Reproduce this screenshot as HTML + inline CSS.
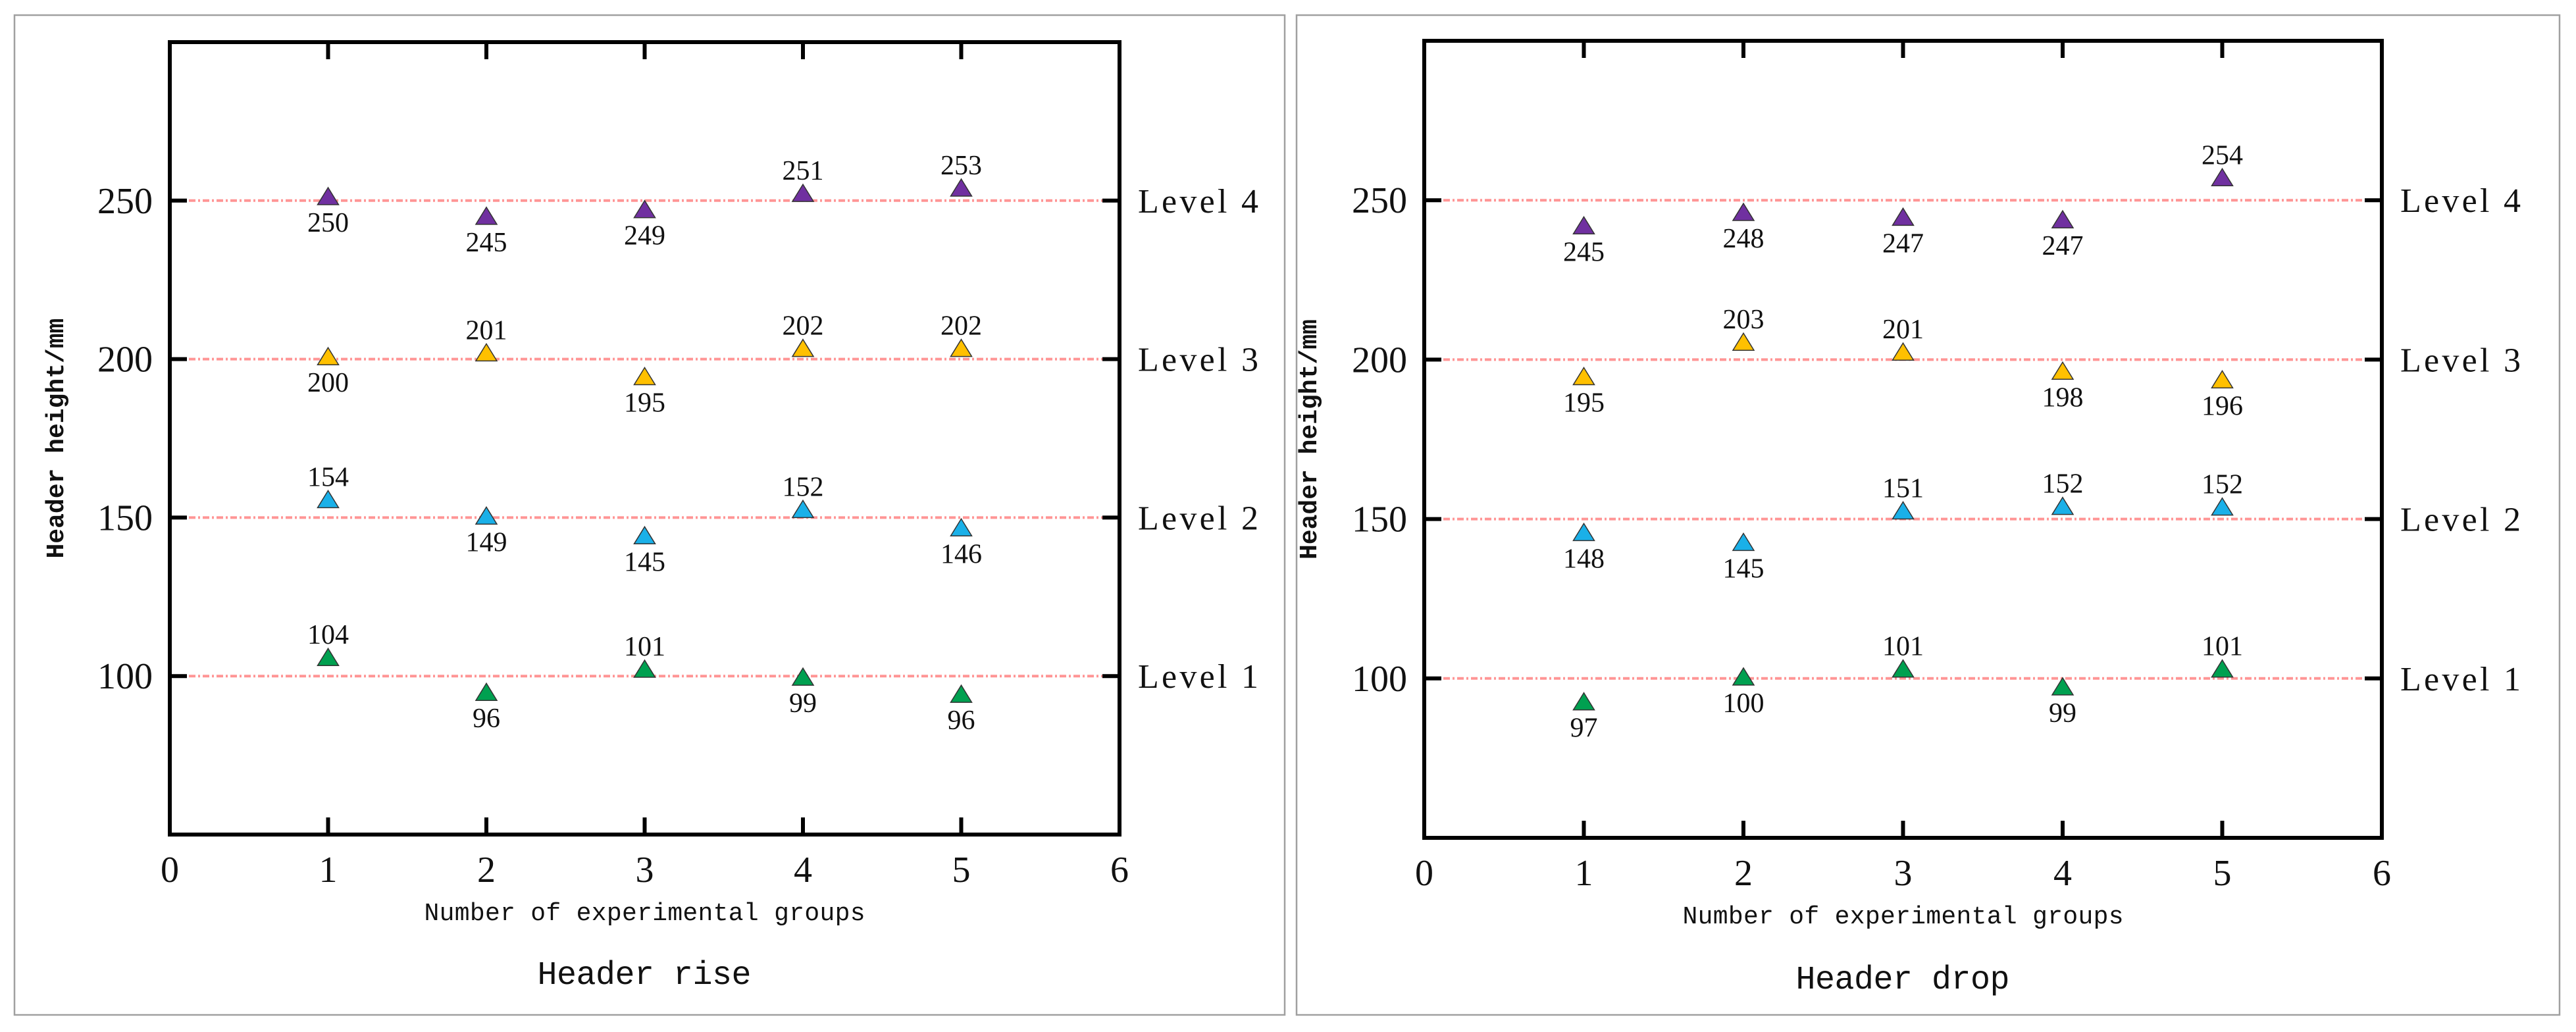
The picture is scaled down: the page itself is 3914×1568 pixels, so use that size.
<!DOCTYPE html>
<html><head><meta charset="utf-8"><style>
html,body{margin:0;padding:0;background:#fff;width:3914px;height:1568px;overflow:hidden}
svg{display:block}
</style></head><body>
<svg id="fig" width="3914" height="1568" viewBox="0 0 3914 1568" xmlns="http://www.w3.org/2000/svg">
<rect x="22" y="23" width="1930" height="1519" fill="#fff" stroke="#a0a0a0" stroke-width="2.5"/>
<rect x="1970" y="23" width="1919" height="1519" fill="#fff" stroke="#a0a0a0" stroke-width="2.5"/>
</svg>
<script>
const groups = [1, 2, 3, 4, 5];
const levels = [100, 150, 200, 250];
const levelNames = ["Level 1", "Level 2", "Level 3", "Level 4"];
const yTicks = [100, 150, 200, 250];
const xTicks = [0, 1, 2, 3, 4, 5, 6];
const seriesColors = ["#00a050", "#1ab0e8", "#ffc000", "#7030a0"];
// Header rise: printed values and plotted positions per level
const riseL1 = [104, 96, 101, 99, 96];
const riseL2 = [154, 149, 145, 152, 146];
const riseL3 = [200, 201, 195, 202, 202];
const riseL4 = [250, 245, 249, 251, 253];
const risePosL1 = [105.6, 94.6, 101.9, 99.4, 94.0];
const risePosL2 = [155.4, 150.2, 144.0, 152.3, 146.5];
const risePosL3 = [200.5, 201.7, 194.2, 203.1, 203.1];
const risePosL4 = [251.0, 244.8, 246.9, 252.0, 253.7];
// Header drop
const dropL1 = [97, 100, 101, 99, 101];
const dropL2 = [148, 145, 151, 152, 152];
const dropL3 = [195, 203, 201, 198, 196];
const dropL4 = [245, 248, 247, 247, 254];
const dropPosL1 = [92.4, 100.2, 102.7, 97.1, 102.7];
const dropPosL2 = [145.5, 142.4, 152.3, 153.7, 153.5];
const dropPosL3 = [194.4, 205.2, 202.1, 196.1, 193.4];
const dropPosL4 = [241.7, 245.9, 244.4, 243.6, 256.8];

const NS = "http://www.w3.org/2000/svg";
const svg = document.getElementById("fig");
function mk(tag, attrs, parent){
  const e = document.createElementNS(NS, tag);
  for (const k in attrs) e.setAttribute(k, attrs[k]);
  (parent||svg).appendChild(e);
  return e;
}
function drawPanel(p){
  const g = mk("g", {});
  
  
  const X = v => p.x0 + (v - 0) / 6 * (p.x1 - p.x0);
  const Y = v => p.y1 - (v - 50) / 250 * (p.y1 - p.y0);
  levels.forEach((lv, i) => {
    const l = mk("line", {x1: p.x0 + 8, x2: p.x1 - 26, y1: Y(lv), y2: Y(lv), stroke: "#ff8a8a", "stroke-width": 4, "stroke-dasharray": "10 4 3 4", opacity: 0.9}, g);
    
    
    const t = mk("text", {x: p.x1 + 28, y: Y(lv) + 18, "font-family": "Liberation Serif, serif", "font-size": 52, fill: "#111", textLength: 183, lengthAdjust: "spacing"}, g);
    t.textContent = levelNames[i];
    
    
  });
  const fr = mk("rect", {x: p.x0, y: p.y0, width: p.x1 - p.x0, height: p.y1 - p.y0, fill: "none", stroke: "#000", "stroke-width": 6}, g);
  
  
  yTicks.forEach(v => {
    mk("line", {x1: p.x0, x2: p.x0 + 26, y1: Y(v), y2: Y(v), stroke: "#000", "stroke-width": 6}, g);
    mk("line", {x1: p.x1 - 26, x2: p.x1, y1: Y(v), y2: Y(v), stroke: "#000", "stroke-width": 6}, g);
    const t = mk("text", {x: p.x0 - 26, y: Y(v) + 19, "text-anchor": "end", "font-family": "Liberation Serif, serif", "font-size": 56, fill: "#111"}, g);
    t.textContent = v;
    
    
  });
  xTicks.forEach(v => {
    if (v > 0 && v < 6){
      mk("line", {x1: X(v), x2: X(v), y1: p.y1, y2: p.y1 - 26, stroke: "#000", "stroke-width": 6}, g);
      mk("line", {x1: X(v), x2: X(v), y1: p.y0, y2: p.y0 + 26, stroke: "#000", "stroke-width": 6}, g);
    }
    const t = mk("text", {x: X(v), y: p.y1 + 72, "text-anchor": "middle", "font-family": "Liberation Serif, serif", "font-size": 56, fill: "#111"}, g);
    t.textContent = v;
    
    
  });
  const xt = mk("text", {x: (p.x0 + p.x1)/2, y: p.y1 + 130, "text-anchor": "middle", "font-family": "Liberation Mono, monospace", "font-size": 38, fill: "#111", textLength: 670}, g);
  xt.textContent = "Number of experimental groups";
  
  
  const yt = mk("text", {x: 0, y: 0, transform: `translate(${p.ytx},${(p.y0+p.y1)/2}) rotate(-90)`, "text-anchor": "middle", "font-family": "Liberation Mono, monospace", "font-weight": "bold", "font-size": 38, fill: "#111", textLength: 365}, g);
  yt.textContent = "Header height/mm";
  
  
  const ct = mk("text", {x: p.capx, y: p.capy, "text-anchor": "middle", "font-family": "Liberation Mono, monospace", "font-size": 50, fill: "#111", textLength: 325}, g);
  ct.textContent = p.caption;
  
  
  p.series.forEach((s, si) => {
    groups.forEach((gx, i) => {
      const cx = X(gx), cy = Y(s.pos[i]);
      const tri = mk("polygon", {points: `${cx},${cy-15} ${cx-16},${cy+11} ${cx+16},${cy+11}`, fill: seriesColors[si], stroke: "#333", "stroke-width": 1.5}, g);
      
      
      const above = s.vals[i] > levels[si];
      const t = mk("text", {x: cx, y: above ? cy - 22 : cy + 52, "text-anchor": "middle", "font-family": "Liberation Serif, serif", "font-size": 42, fill: "#111"}, g);
      t.textContent = s.vals[i];
      
      
    });
  });
}
drawPanel({id: "header-rise", x0: 258, x1: 1701, y0: 64, y1: 1268, ytx: 96, capx: 979, capy: 1495, caption: "Header rise",
  series: [{vals: riseL1, pos: risePosL1}, {vals: riseL2, pos: risePosL2}, {vals: riseL3, pos: risePosL3}, {vals: riseL4, pos: risePosL4}]});
drawPanel({id: "header-drop", x0: 2164, x1: 3619, y0: 62, y1: 1273, ytx: 2000, capx: 2891, capy: 1502, caption: "Header drop",
  series: [{vals: dropL1, pos: dropPosL1}, {vals: dropL2, pos: dropPosL2}, {vals: dropL3, pos: dropPosL3}, {vals: dropL4, pos: dropPosL4}]});
</script>
</body></html>
